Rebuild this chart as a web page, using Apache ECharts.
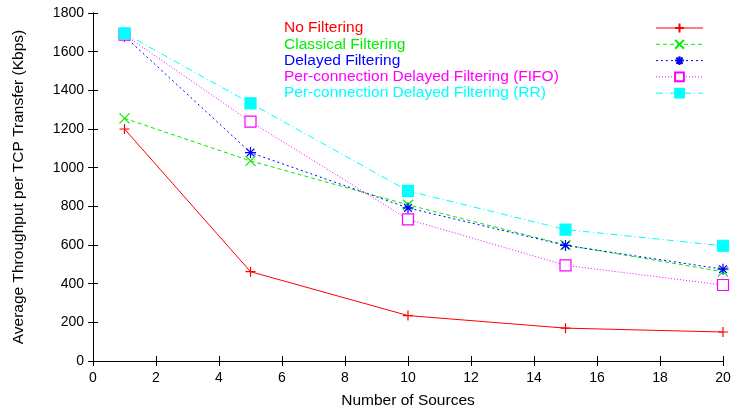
<!DOCTYPE html>
<html>
<head>
<meta charset="utf-8">
<script src="https://cdn.jsdelivr.net/npm/echarts@6/dist/echarts.min.js"></script>
<style>html,body{margin:0;padding:0;background:#fff}#c{width:735px;height:410px}</style>
</head>
<body>
<div id="c"></div>
<script>
var sources = [1, 5, 10, 15, 20];
var noFiltering = [1200, 462, 235, 170, 150];
var classicalFiltering = [1255, 1035, 808, 600, 462];
var delayedFiltering = [1680, 1078, 792, 598, 475];
var fifoFiltering = [1688, 1238, 733, 495, 393];
var rrFiltering = [1695, 1333, 880, 680, 596];
var seriesNames = ['No Filtering', 'Classical Filtering', 'Delayed Filtering',
  'Per-connection Delayed Filtering (FIFO)', 'Per-connection Delayed Filtering (RR)'];
var xTicks = [0, 2, 4, 6, 8, 10, 12, 14, 16, 18, 20];
var yTicks = [0, 200, 400, 600, 800, 1000, 1200, 1400, 1600, 1800];

function pairs(vals) { return sources.map(function (s, i) { return [s, vals[i]]; }); }

var FONT = 'Liberation Sans, Arial, sans-serif';
var styles = [
  { color: '#ff0000', type: 'solid', symbol: 'path://M0,5L10,5M5,0L5,10', size: 10, fill: 'none' },
  { color: '#00ee00', type: [4, 3], symbol: 'path://M0,0L10,10M0,10L10,0', size: 10, fill: 'none' },
  { color: '#0000ff', type: [2, 3], symbol: 'path://M0,5L10,5M5,0L5,10M1.5,1.5L8.5,8.5M1.5,8.5L8.5,1.5', size: 11, fill: 'none' },
  { color: '#ff00ff', type: [1, 2], symbol: 'rect', size: 11, fill: '#ffffff' },
  { color: '#00ffff', type: [7, 3, 1, 3], symbol: 'rect', size: 11, fill: '#00ffff' }
];
var allData = [noFiltering, classicalFiltering, delayedFiltering, fifoFiltering, rrFiltering];

var series = allData.map(function (d, i) {
  var st = styles[i];
  return {
    name: seriesNames[i],
    type: 'line',
    data: pairs(d),
    symbol: st.symbol,
    symbolSize: st.size,
    showAllSymbol: true,
    lineStyle: { color: st.color, width: 1, type: st.type },
    itemStyle: { color: st.fill === 'none' ? 'rgba(0,0,0,0)' : st.fill, borderColor: st.color, borderWidth: 1.2, opacity: 1 },
    emphasis: { disabled: true },
    animation: false,
    z: 2 + i
  };
});

var legendData = seriesNames.map(function (n, i) {
  return { name: n, textStyle: { color: styles[i].color } };
});

var chart = echarts.init(document.getElementById('c'), null, { renderer: 'canvas' });
chart.setOption({
  backgroundColor: '#ffffff',
  animation: false,
  textStyle: { fontFamily: FONT },
  grid: { left: 93, right: 12, top: 13, bottom: 49, containLabel: false, outerBoundsMode: 'none' },
  legend: {
    data: legendData,
    orient: 'vertical',
    left: 279,
    top: 15,
    align: 'right',
    itemGap: 0.3,
    itemWidth: 47,
    itemHeight: 11,
    selectedMode: false,
    lineStyle: { width: 1 },
    formatter: function (n) { return '{t|' + n + '}'; },
    textStyle: {
      fontFamily: FONT, fontSize: 15.5,
      rich: { t: { width: 367, height: 16, lineHeight: 16, align: 'left', fontFamily: FONT, fontSize: 15.5 } }
    }
  },
  xAxis: [{
    type: 'value', min: 0, max: 20, interval: 2,
    name: 'Number of Sources', nameLocation: 'middle', nameGap: 32,
    nameTextStyle: { fontFamily: FONT, fontSize: 15.5, color: '#000' },
    axisLine: { show: true, lineStyle: { color: '#000', width: 1 } },
    axisTick: { show: true, inside: true, length: 5, lineStyle: { color: '#000' } },
    axisLabel: { fontFamily: FONT, fontSize: 14, color: '#000', margin: 10 },
    splitLine: { show: false }
  }, {
    type: 'value', min: 0, max: 20, interval: 2, position: 'top',
    axisLine: { show: true, lineStyle: { color: '#000', width: 1 } },
    axisTick: { show: true, inside: true, length: 5, lineStyle: { color: '#000' } },
    axisLabel: { show: false }, splitLine: { show: false }
  }],
  yAxis: [{
    type: 'value', min: 0, max: 1800, interval: 200,
    name: 'Average Throughput per TCP Transfer (Kbps)', nameLocation: 'middle', nameGap: 66,
    nameTextStyle: { fontFamily: FONT, fontSize: 15.5, color: '#000' },
    axisLine: { show: true, lineStyle: { color: '#000', width: 1 } },
    axisTick: { show: true, inside: true, length: 5, lineStyle: { color: '#000' } },
    axisLabel: { fontFamily: FONT, fontSize: 14, color: '#000', margin: 9,
      formatter: function (v) { return String(v); } },
    splitLine: { show: false }
  }, {
    type: 'value', min: 0, max: 1800, interval: 200, position: 'right',
    axisLine: { show: true, lineStyle: { color: '#000', width: 1 } },
    axisTick: { show: true, inside: true, length: 5, lineStyle: { color: '#000' } },
    axisLabel: { show: false }, splitLine: { show: false }
  }],
  series: series
});
</script>
</body>
</html>
